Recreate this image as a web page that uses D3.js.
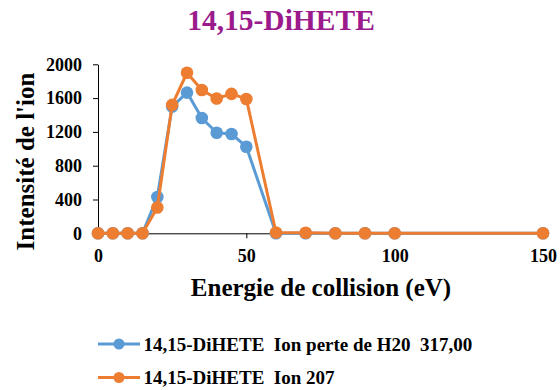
<!DOCTYPE html>
<html>
<head>
<meta charset="utf-8">
<script src="https://cdn.jsdelivr.net/npm/d3@7"></script>
<style>
html,body{margin:0;padding:0;background:#fff;}
svg{display:block;}
</style>
</head>
<body>
<svg id="chart" width="560" height="390"></svg>
<script>
const title = "14,15-DiHETE";
const xTitle = "Energie de collision (eV)";
const yTitle = "Intensité de l'ion";
const energies = [0,5,10,15,20,25,30,35,40,45,50,60,70,80,90,100,150];
const seriesNames = ["14,15-DiHETE  Ion perte de H20  317,00", "14,15-DiHETE  Ion 207"];
const ionH2O = [0,0,0,0,430,1500,1665,1365,1190,1175,1025,0,0,0,0,0,0];
const ion207 = [0,0,0,0,305,1520,1900,1695,1595,1650,1590,10,6,0,0,0,0];
const colors = ["#5B9BD5","#ED7D31"];
const xTicks = [0,50,100,150];
const yTicks = [0,400,800,1200,1600,2000];

const FONT = '"Times New Roman", Tinos, Times, "DejaVu Serif"';
const svg = d3.select("#chart");
const x = d3.scaleLinear().domain([0,150]).range([98,543]);
const y = d3.scaleLinear().domain([0,2000]).range([233.3,64.3]);

svg.append("text").attr("x",281).attr("y",30).attr("text-anchor","middle")
  .attr("font-size",29.5).attr("fill","#9B1B8C").text(title);

// y axis
const yAxis = svg.append("g").attr("transform",`translate(${x(0)},0)`)
  .call(d3.axisLeft(y).tickValues(yTicks).tickFormat(d3.format("d")).tickSize(5).tickSizeOuter(0).tickPadding(11));
yAxis.attr("font-family",null);
yAxis.select(".domain").attr("stroke","#000");
yAxis.selectAll(".tick line").attr("stroke","#000");
yAxis.selectAll(".tick text").attr("font-size",18).attr("fill","#000");

// x axis
const xAxis = svg.append("g").attr("transform",`translate(0,${y(0)})`)
  .call(d3.axisBottom(x).tickValues(xTicks).tickFormat(d3.format("d")).tickSize(5).tickSizeOuter(0).tickPadding(11));
xAxis.attr("font-family",null);
xAxis.select(".domain").attr("stroke","#000");
xAxis.selectAll(".tick line").attr("stroke","#000");
xAxis.selectAll(".tick text").attr("font-size",18).attr("fill","#000");

svg.append("text").attr("x",321).attr("y",296).attr("text-anchor","middle")
  .attr("font-size",25).attr("fill","#000").text(xTitle);
svg.append("text").attr("transform","translate(33.5,161.5) rotate(-90)").attr("text-anchor","middle")
  .attr("font-size",25).attr("fill","#000").text(yTitle);

const series = [ionH2O, ion207];
const line = d3.line().x((d,i)=>x(energies[i])).y(d=>y(d));
series.forEach((vals,k)=>{
  const g = svg.append("g");
  g.append("path").datum(vals).attr("d",line).attr("fill","none")
    .attr("stroke",colors[k]).attr("stroke-width",3).attr("stroke-linejoin","round");
  g.selectAll("circle").data(vals).join("circle")
    .attr("cx",(d,i)=>x(energies[i])).attr("cy",d=>y(d)).attr("r",6.3).attr("fill",colors[k]);
});

// legend
const legY = [344,377.5];
seriesNames.forEach((name,k)=>{
  const g = svg.append("g").attr("transform",`translate(0,${legY[k]})`);
  g.append("line").attr("x1",98).attr("x2",140).attr("y1",0).attr("y2",0)
    .attr("stroke",colors[k]).attr("stroke-width",3);
  g.append("circle").attr("cx",119).attr("cy",0).attr("r",5.5).attr("fill",colors[k]);
  g.append("text").attr("x",143.5).attr("y",6.5).attr("font-size",19).attr("fill","#000")
    .style("white-space","pre").text(name);
});

svg.attr("font-family", FONT).style("font-family", FONT);
svg.selectAll("text").attr("font-family", FONT).style("font-family", FONT).attr("font-weight","bold");
</script>
</body>
</html>
